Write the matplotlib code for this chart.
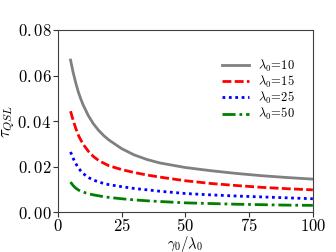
import numpy as np
import matplotlib
matplotlib.use('Agg')
import matplotlib.pyplot as plt
from matplotlib.ticker import FuncFormatter

plt.rcParams['mathtext.fontset'] = 'cm'
plt.rcParams['font.family'] = 'serif'
plt.rcParams['font.serif'] = ['DejaVu Serif']

# values
gamma = [5, 6, 7, 8, 9, 10, 12, 14, 16, 18, 20, 25, 30, 35, 40, 50, 60, 70, 80, 90, 100]
tau_10 = [0.0668, 0.0615, 0.0570, 0.0530, 0.0498, 0.0470, 0.0424, 0.0388, 0.0360, 0.0337, 0.0318,
          0.0280, 0.0252, 0.0232, 0.0217, 0.0197, 0.0183, 0.0171, 0.0161, 0.0153, 0.0146]
tau_15 = [0.0444, 0.0405, 0.0370, 0.0340, 0.0318, 0.0298, 0.0268, 0.0245, 0.0228, 0.0216, 0.0205,
          0.0188, 0.0175, 0.0164, 0.0155, 0.0139, 0.0127, 0.0118, 0.0110, 0.0104, 0.0099]
tau_25 = [0.0265, 0.0238, 0.0215, 0.0197, 0.0182, 0.0170, 0.0153, 0.0142, 0.0134, 0.0127, 0.0122,
          0.0113, 0.0105, 0.0099, 0.0093, 0.0083, 0.0077, 0.0072, 0.0068, 0.0064, 0.0060]
tau_50 = [0.0133, 0.0118, 0.0107, 0.0099, 0.0093, 0.0089, 0.0082, 0.0077, 0.0073, 0.0069, 0.0066,
          0.0060, 0.0055, 0.0051, 0.0048, 0.0042, 0.0039, 0.0036, 0.0034, 0.0032, 0.0031]
labels = ['10', '15', '25', '50']

fig = plt.figure(figsize=(3.36, 2.52), dpi=100)
ax = fig.add_axes([0.172, 0.157, 0.759, 0.724])

ax.plot(gamma, tau_10, color='gray', ls='-', lw=2, label=r'$\lambda_0\!=\!%s$' % labels[0])
ax.plot(gamma, tau_15, color='red', ls=(0, (3.2, 1.2)), lw=2, label=r'$\lambda_0\!=\!%s$' % labels[1])
ax.plot(gamma, tau_25, color='blue', ls=(0, (1, 1.3)), lw=2, label=r'$\lambda_0\!=\!%s$' % labels[2])
ax.plot(gamma, tau_50, color='green', ls=(0, (4.7, 1.4, 1, 1.4)), lw=2,
        label=r'$\lambda_0\!=\!%s$' % labels[3])

ax.set_xlim(0, 100)
ax.set_ylim(0, 0.08)
ax.set_xticks([0, 25, 50, 75, 100])
ax.set_yticks([0, 0.02, 0.04, 0.06, 0.08])
ax.xaxis.set_major_formatter(FuncFormatter(lambda v, p: r'$%d$' % v))
# "{}" after the point gives the old-style gap seen in the reference labels
ax.yaxis.set_major_formatter(FuncFormatter(lambda v, p: (r'$%.2f$' % v).replace('.', '.{}')))
ax.tick_params(labelsize=12, length=3.5, pad=1, color='0.2')
ax.tick_params(axis='x', pad=0.5)
for s in ax.spines.values():
    s.set_color('0.25')

ax.set_xlabel(r'$\gamma_0/\lambda_0$', fontsize=10.5, labelpad=-1)
ax.set_ylabel(r'$\tau_{QSL}$', fontsize=12, labelpad=0)
ax.legend(loc='upper right', bbox_to_anchor=(0.949, 0.876), borderaxespad=0,
          frameon=False, fontsize=9, handlelength=2.2,
          labelspacing=0.0, handletextpad=0.7)

fig.savefig('out.png', dpi=100)
